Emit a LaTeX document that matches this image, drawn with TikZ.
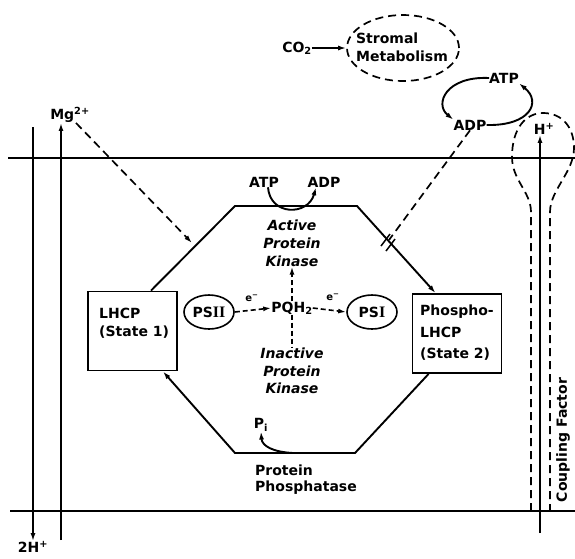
\documentclass[tikz,border=0pt]{standalone}
\usepackage{fontspec}
\setmainfont{DejaVu Sans}
\setsansfont{DejaVu Sans}
\newfontfamily\romnum{Liberation Serif}
\usetikzlibrary{arrows.meta,shapes.geometric}
\begin{document}
\begin{tikzpicture}[x=1pt,y=-1pt,
  every node/.style={inner sep=0pt, font=\fontsize{14}{18}\selectfont\bfseries},
  ital/.style={font=\fontsize{14}{18}\selectfont\bfseries\itshape, align=center},
  small/.style={font=\fontsize{10}{12}\selectfont\bfseries},
  ln/.style={line width=1.9pt},
  mem/.style={line width=1.6pt},
  dsh/.style={line width=1.7pt, dash pattern=on 8pt off 5pt},
  dshs/.style={line width=1.6pt, dash pattern=on 5pt off 3pt},
  tip/.style={-{Latex[length=8pt,width=5pt]}},
  boxs/.style={draw, line width=1.9pt, minimum width=89pt, minimum height=79pt},
  ps/.style={draw, ellipse, line width=1.6pt, minimum width=50pt, minimum height=34pt}
]
\useasboundingbox (0,0) rectangle (575,558);

% membranes
\coordinate (m1l) at (8,158); \coordinate (m1r) at (575,158);
\coordinate (m2l) at (10,511); \coordinate (m2r) at (575,511);
\draw[mem] (m1l) -- (m1r);
\draw[mem] (m2l) -- (m2r);

% left ions
\node (twoH) at (33,547) {2H\textsuperscript{+}};
\coordinate (hTop) at (33,127);
\draw[ln,tip] (hTop) -- (twoH.north -| hTop);
\node (mg) at (70,115) {Mg\textsuperscript{2+}};
\coordinate (mgBot) at (61,540);
\draw[ln,tip] (mgBot) -- (mg.south -| mgBot);
\coordinate (mgTarget) at (192,243);
\draw[dsh,tip] ([xshift=6pt]mg.south) -- (mgTarget);

% boxes
\node[boxs] (lhcp) at (132.5,331) {};
\node[anchor=west, align=left] (lhcptxt) at (99,323) {LHCP\\(State 1)};
\node[boxs] (pho) at (457,333.5) {};
\node[anchor=west, align=left, font=\fontsize{14}{21.5}\selectfont\bfseries] (photxt) at (420,333) {Phospho-\\LHCP\\(State 2)};

% octagon
\coordinate (A) at (235,206); \coordinate (B) at (357,206);
\coordinate (C) at (355,453); \coordinate (D) at (235,453);
\draw[ln,tip] ([xshift=64pt]lhcp.north west) -- (A) -- (B) -- ([xshift=24pt]pho.north west);
\draw[ln,tip] ([xshift=17pt]pho.south west) -- (C) -- (D) -- ([xshift=-15pt]lhcp.south east);

% top ATP/ADP on octagon
\node (atp1) at (264,182) {ATP};
\node (adp1) at (324,182) {ADP};
\draw[ln,tip] ([xshift=4pt]atp1.south) .. controls (270,216) and (308,216) .. ([xshift=-8pt]adp1.south);

% kinases
\node[ital] (akin) at (292,243) {Active\\Protein\\Kinase};
\node (pq) at (292,308) {PQH\textsubscript{2}};
\draw[dshs,tip] (pq.north) -- (akin.south);
\node[ital, font=\fontsize{14}{17.5}\selectfont\bfseries\itshape] (ikin) at (292,371) {Inactive\\Protein\\Kinase};
\draw[dshs] (pq.south) -- (ikin.north);

% photosystems
\node[ps] (ps2) at (209,312) {PS{\romnum\fontsize{16}{16}\selectfont\bfseries II}};
\node[ps] (ps1) at (372,312) {PS{\romnum\fontsize{16}{16}\selectfont\bfseries I}};
\draw[dshs,tip] (ps2.east) -- (pq.west);
\draw[dshs,tip] (pq.east) -- (ps1.west);
\node[small] (e1) at (252,298) {e\textsuperscript{−}};
\node[small] (e2) at (333,297) {e\textsuperscript{−}};

% phosphatase
\node (pi) at (261,425) {P\textsubscript{i}};
\coordinate (piStart) at (293,453);
\draw[ln,tip] (piStart) .. controls (273,452) and (262,446) .. (pi.south);
\node[anchor=west, align=left, font=\fontsize{14}{16}\selectfont\bfseries] (pp) at (255,480) {Protein\\Phosphatase};

% stroma
\node (co2) at (297,48) {CO\textsubscript{2}};
\node[draw, dsh, ellipse, minimum width=112pt, minimum height=66pt] (strom) at (403,48) {};
\node[align=left] (stromtxt) at (402,47) {Stromal\\Metabolism};
\draw[ln,tip] (co2.east) -- (strom.west);

% right ATP/ADP
\node (atp2) at (504,78) {ATP};
\node (adp2) at (470,125) {ADP};
\draw[ln,tip] (atp2.west) .. controls (446,76) and (434,104) .. (adp2.north west);
\draw[ln,tip] (adp2.east) .. controls (530,126) and (542,102) .. (atp2.south east);

% inhibition dashed line
\coordinate (inh) at (389,240);
\draw[dsh] (adp2.south) -- (inh);
\coordinate (s1a) at (381,246); \coordinate (s1b) at (390,234);
\coordinate (s2a) at (386,251); \coordinate (s2b) at (395,239);
\draw[line width=1.5pt] (s1a) -- (s1b);
\draw[line width=1.5pt] (s2a) -- (s2b);

% coupling factor
\node (hplus) at (544,129) {H\textsuperscript{+}};
\coordinate (hBot) at (540,533);
\draw[ln,tip] (hBot) -- (hplus.south -| hBot);
\draw[dsh] (531,511) -- (531,212) .. controls (531,192) and (512,180) .. (512,157)
  .. controls (512,128) and (526,113) .. (543,113)
  .. controls (562,113) and (574,127) .. (574,148)
  .. controls (574,172) and (550,190) .. (550,212) -- (550,511);
\node[rotate=90] (cf) at (563,440) {Coupling Factor};
\end{tikzpicture}
\end{document}
